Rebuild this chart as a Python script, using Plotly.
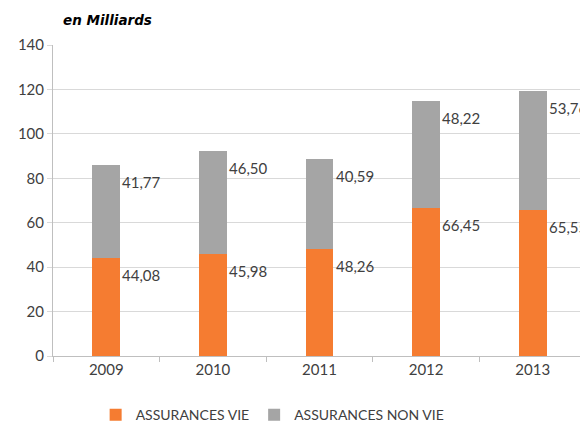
import plotly.graph_objects as go

years = ["2009", "2010", "2011", "2012", "2013"]
vie = [44.08, 45.98, 48.26, 66.45, 65.55]
non_vie = [41.77, 46.50, 40.59, 48.22, 53.76]
vie_labels = ["44,08", "45,98", "48,26", "66,45", "65,55"]
non_vie_labels = ["41,77", "46,50", "40,59", "48,22", "53,76"]

ORANGE = "#F57C31"
GRAY = "#A5A5A5"
TXT = "#404040"
FONT = "Lato, DejaVu Sans, sans-serif"

fig = go.Figure()
fig.add_trace(go.Bar(x=years, y=vie, name="ASSURANCES VIE", marker_color=ORANGE, marker_line_width=0))
fig.add_trace(go.Bar(x=years, y=non_vie, name="ASSURANCES NON VIE", marker_color=GRAY, marker_line_width=0))

annotations = []
for i, yr in enumerate(years):
    top1 = vie[i]
    top2 = vie[i] + non_vie[i]
    for top, lab in ((top1, vie_labels[i]), (top2, non_vie_labels[i])):
        annotations.append(dict(x=i, y=top, text=lab, showarrow=False, xanchor="left",
                                yanchor="middle", xshift=14, yshift=-17,
                                font=dict(family=FONT, size=15, color=TXT)))
annotations.append(dict(x=0.015, y=1.08, xref="paper", yref="paper", yanchor="middle",
                        xanchor="left", text="<b><i>en Milliards</i></b>", showarrow=False,
                        font=dict(family="DejaVu Sans, sans-serif", size=13.5, color="black")))

fig.update_layout(
    barmode="stack",
    bargap=0.74,
    width=580, height=417,
    margin=dict(l=45, r=2, t=37, b=69, autoexpand=False),
    paper_bgcolor="white", plot_bgcolor="white",
    font=dict(family=FONT, size=15, color=TXT),
    annotations=annotations,
    legend=dict(orientation="h", x=0.08, xanchor="left", y=-0.19, yanchor="middle",
                font=dict(family=FONT, size=14, color=TXT),
                traceorder="normal"),
    xaxis=dict(type="category", range=[-0.5, len(years) - 0.5], showline=True,
               linecolor="#BFBFBF", linewidth=1, ticks="outside",
               tickson="boundaries", ticklen=5, tickcolor="#BFBFBF",
               tickfont=dict(family=FONT, size=15, color=TXT)),
    yaxis=dict(range=[0, 140], dtick=20, showgrid=True, gridcolor="#D9D9D9",
               showline=True, linecolor="#BFBFBF", ticks="outside", ticklen=5,
               tickcolor="#D9D9D9", zeroline=False,
               tickfont=dict(family=FONT, size=15, color=TXT)),
)

fig.write_html("out.html")
